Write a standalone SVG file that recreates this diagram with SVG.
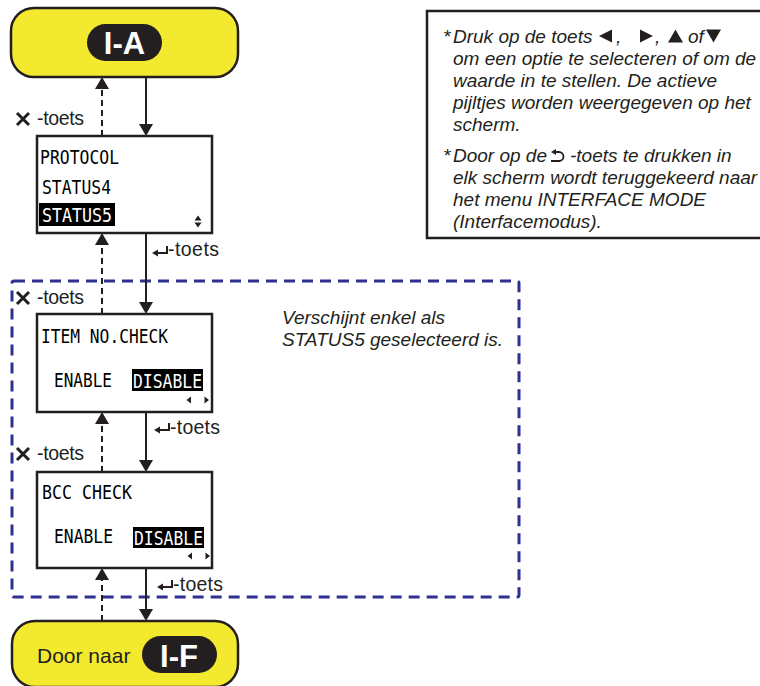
<svg xmlns="http://www.w3.org/2000/svg" width="760" height="686" viewBox="0 0 760 686">
<style>
.term{fill:#f3e92e;stroke:#231f20;stroke-width:2.5}
.pill{fill:#231f20}
.pilltxt{font-family:"Liberation Sans",Arial,sans-serif;font-weight:bold;font-size:31px;fill:#fff;text-anchor:middle}
.scr{fill:#fff;stroke:#231f20;stroke-width:2.5}
.lcd{font-family:"DejaVu Sans Mono","Liberation Mono",monospace;font-size:20px;fill:#000}
.lcdw{font-family:"DejaVu Sans Mono","Liberation Mono",monospace;font-size:20px;fill:#fff}
.hl{fill:#000}
.lbl{font-family:"Liberation Sans",Arial,sans-serif;font-size:19.5px;fill:#231f20}
.note{font-family:"Liberation Sans",Arial,sans-serif;font-style:italic;font-size:19px;fill:#231f20}
.solid{stroke:#231f20;stroke-width:2;fill:none}
.dash{stroke:#231f20;stroke-width:2;fill:none;stroke-dasharray:6 4}
.icon{stroke:#231f20;fill:none}
.tri{fill:#231f20}
</style>
<defs>
<marker id="ah" markerUnits="userSpaceOnUse" markerWidth="14" markerHeight="15" refX="0" refY="7" orient="auto" viewBox="0 0 14 15">
<path d="M0,0 L12,7 L0,14 z" fill="#231f20"/>
</marker>
</defs>

<rect id="region" x="12" y="281" width="507" height="316" rx="2" fill="none" stroke="#2e3192" stroke-width="3" stroke-dasharray="11 7"/>

<g id="connectors">
<line class="solid" x1="146" y1="77" x2="146" y2="124" marker-end="url(#ah)"/>
<line class="dash" x1="102" y1="136" x2="102" y2="89" marker-end="url(#ah)"/>
<line class="solid" x1="146" y1="233" x2="146" y2="302" marker-end="url(#ah)"/>
<line class="dash" x1="102" y1="314" x2="102" y2="245" marker-end="url(#ah)"/>
<line class="solid" x1="146" y1="412" x2="146" y2="460" marker-end="url(#ah)"/>
<line class="dash" x1="102" y1="472" x2="102" y2="424" marker-end="url(#ah)"/>
<line class="solid" x1="146" y1="568" x2="146" y2="609" marker-end="url(#ah)"/>
<line class="dash" x1="102" y1="621" x2="102" y2="580" marker-end="url(#ah)"/>

<g id="lbl-x1">
<path class="icon" stroke-width="3" d="M17,113 L29,125 M29,113 L17,125"/>
<text class="lbl" x="37" y="125" textLength="47">-toets</text>
</g>
<g id="lbl-e1">
<path class="icon" stroke-width="2" d="M156,253 H167 V246"/>
<path class="tri" d="M152,253 L158,249.5 L158,256.5 z"/>
<text class="lbl" x="168" y="256" textLength="51">-toets</text>
</g>
<g id="lbl-x2">
<path class="icon" stroke-width="3" d="M17,292 L29,304 M29,292 L17,304"/>
<text class="lbl" x="37" y="304" textLength="47">-toets</text>
</g>
<g id="lbl-e2">
<path class="icon" stroke-width="2" d="M158,430 H169 V423"/>
<path class="tri" d="M154,430 L160,426.5 L160,433.5 z"/>
<text class="lbl" x="170" y="434" textLength="50">-toets</text>
</g>
<g id="lbl-x3">
<path class="icon" stroke-width="3" d="M17,448 L29,460 M29,448 L17,460"/>
<text class="lbl" x="37" y="460" textLength="47">-toets</text>
</g>
<g id="lbl-e3">
<path class="icon" stroke-width="2" d="M161,587 H172 V580"/>
<path class="tri" d="M157,587 L163,583.5 L163,590.5 z"/>
<text class="lbl" x="173" y="591" textLength="50">-toets</text>
</g>
</g>

<g id="node-IA">
<rect class="term" x="11" y="8" width="227" height="69" rx="23"/>
<rect class="pill" x="87" y="24" width="75" height="37" rx="18.5"/>
<text class="pilltxt" x="124.5" y="54">I-A</text>
</g>

<g id="node-protocol">
<rect class="scr" x="37" y="136" width="175" height="97"/>
<text class="lcd" x="40" y="164" textLength="79" lengthAdjust="spacingAndGlyphs">PROTOCOL</text>
<text class="lcd" x="42" y="194" textLength="69" lengthAdjust="spacingAndGlyphs">STATUS4</text>
<rect class="hl" x="39" y="203" width="76" height="23"/>
<text class="lcdw" x="42" y="222" textLength="70" lengthAdjust="spacingAndGlyphs">STATUS5</text>
<path class="tri" d="M198,215.5 L201.5,220.5 L194.5,220.5 z M198,227.5 L201.5,222.5 L194.5,222.5 z"/>
</g>

<g id="node-itemno">
<rect class="scr" x="37" y="314" width="175" height="98"/>
<text class="lcd" x="41" y="343" textLength="127" lengthAdjust="spacingAndGlyphs">ITEM NO.CHECK</text>
<text class="lcd" x="54" y="387" textLength="58" lengthAdjust="spacingAndGlyphs">ENABLE</text>
<rect class="hl" x="132" y="369" width="71" height="22"/>
<text class="lcdw" x="133" y="388" textLength="69" lengthAdjust="spacingAndGlyphs">DISABLE</text>
<path class="tri" d="M186.5,400 L191,396.5 L191,403.5 z M209,400 L204.5,396.5 L204.5,403.5 z"/>
</g>

<g id="node-bcc">
<rect class="scr" x="37" y="472" width="175" height="96"/>
<text class="lcd" x="42" y="499" textLength="90" lengthAdjust="spacingAndGlyphs">BCC CHECK</text>
<text class="lcd" x="54" y="543" textLength="59" lengthAdjust="spacingAndGlyphs">ENABLE</text>
<rect class="hl" x="133" y="527" width="71" height="21"/>
<text class="lcdw" x="134" y="545" textLength="69" lengthAdjust="spacingAndGlyphs">DISABLE</text>
<path class="tri" d="M187.5,556 L192,552.5 L192,559.5 z M210,556 L205.5,552.5 L205.5,559.5 z"/>
</g>

<g id="node-IF">
<rect class="term" x="12" y="621" width="226" height="66" rx="23"/>
<text x="37" y="663" font-family="Liberation Sans, Arial, sans-serif" font-size="21" fill="#231f20">Door naar</text>
<rect class="pill" x="142" y="636" width="75" height="37" rx="18.5"/>
<text class="pilltxt" x="179" y="667">I-F</text>
</g>

<g id="note-status5">
<text class="note" x="282" y="324">Verschijnt enkel als</text>
<text class="note" x="282" y="346">STATUS5 geselecteerd is.</text>
</g>

<g id="note-box">
<rect x="427" y="11" width="345" height="227" fill="#fff" stroke="#231f20" stroke-width="2.5"/>
<text class="note" y="43"><tspan x="443">*</tspan><tspan x="453">Druk op de toets</tspan><tspan x="616">,</tspan><tspan x="655">,</tspan><tspan x="688">of</tspan></text>
<path class="tri" d="M599,36 L612,29.5 L612,42.5 z M640,29.5 L653,36 L640,42.5 z M668,42.5 L675.5,29.5 L683,42.5 z M706,29.5 L721,29.5 L713.5,42.5 z"/>
<text class="note" x="453" y="65">om een optie te selecteren of om de</text>
<text class="note" x="453" y="87">waarde in te stellen. De actieve</text>
<text class="note" x="453" y="109">pijltjes worden weergegeven op het</text>
<text class="note" x="453" y="131">scherm.</text>
<text class="note" y="162"><tspan x="443">*</tspan><tspan x="453">Door op de</tspan></text>
<path class="icon" stroke-width="1.8" d="M555,152 H559 A4.5,4.5 0 0 1 559,161 H551"/>
<path class="tri" d="M551,152 L556,149 L556,155 z"/>
<text class="note" x="570" y="162">-toets te drukken in</text>
<text class="note" x="453" y="184">elk scherm wordt teruggekeerd naar</text>
<text class="note" x="453" y="206">het menu INTERFACE MODE</text>
<text class="note" x="453" y="228">(Interfacemodus).</text>
</g>
</svg>
